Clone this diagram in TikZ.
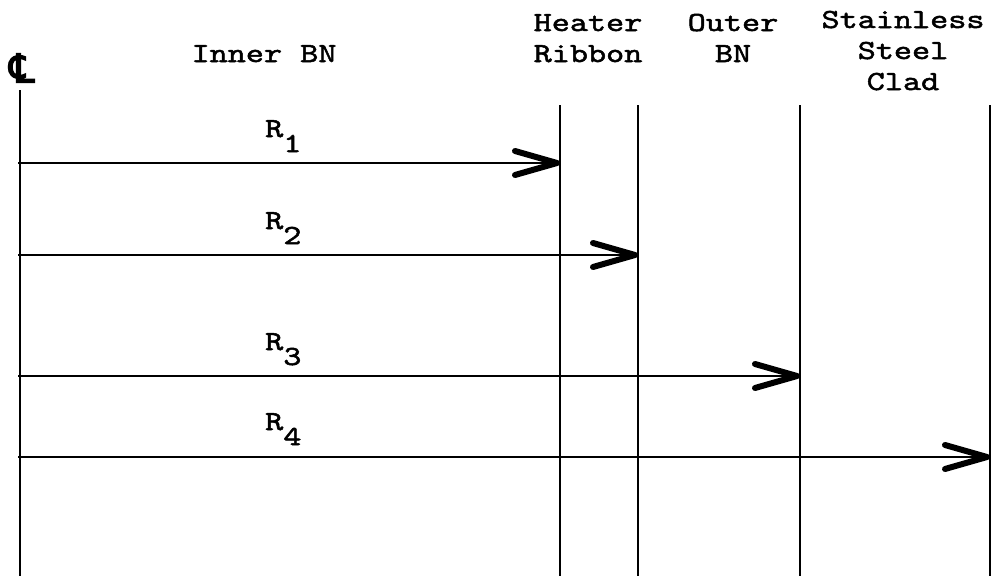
\documentclass[tikz,border=0pt]{standalone}
\usepackage{fontspec}
\setmainfont{lmmono10-regular.otf}[FakeStretch=1.25,FakeBold=1.8]
\newfontfamily\symfont{DejaVu Sans}[FakeBold=3]
\usetikzlibrary{arrows.meta}
\tikzset{
  wall/.style={line width=2pt},
  ray/.style={line width=1.8pt,-{Straight Barb[length=42pt,width=24pt,line width=6pt,round]}},
  hdr/.style={font=\fontsize{27.6}{31}\selectfont,align=center,anchor=base,inner sep=0pt},
  rlab/.style={font=\fontsize{27.6}{31}\selectfont,anchor=base west,inner sep=0pt}
}
\begin{document}
\begin{tikzpicture}[x=1pt,y=-1pt]
\useasboundingbox (0,0) rectangle (996,576);
% headers (base = baseline of the last line)
\node[hdr] (inner) at (264,62) {Inner BN};
\node[hdr] (heater) at (588,62) {Heater\\Ribbon};
\node[hdr] (outer) at (733,62) {Outer\\BN};
\node[hdr] (steel) at (903,90) {Stainless\\Steel\\Clad};
\node[font=\symfont\fontsize{40}{40}\selectfont,inner sep=0pt] (cl) at (22,68) {℄};
% wall lines
\coordinate (c0) at (20,90);   \coordinate (c1) at (20,576);
\coordinate (h0) at (560,105); \coordinate (h1) at (560,576);
\coordinate (r0) at (638,105); \coordinate (r1) at (638,576);
\coordinate (o0) at (800,105); \coordinate (o1) at (800,576);
\coordinate (s0) at (990,105); \coordinate (s1) at (990,576);
\draw[wall] (c0) -- (c1);
\draw[wall] (h0) -- (h1);
\draw[wall] (r0) -- (r1);
\draw[wall] (o0) -- (o1);
\draw[wall] (s0) -- (s1);
% rays
\coordinate (a1) at (18,163); \coordinate (b1) at (560,163);
\coordinate (a2) at (18,255); \coordinate (b2) at (638,255);
\coordinate (a3) at (18,376); \coordinate (b3) at (800,376);
\coordinate (a4) at (18,457); \coordinate (b4) at (990,457);
\draw[ray] (a1) -- (b1);
\draw[ray] (a2) -- (b2);
\draw[ray] (a3) -- (b3);
\draw[ray] (a4) -- (b4);
\node[rlab] (R1) at (265,137) {R\raisebox{-15pt}{1}};
\node[rlab] (R2) at (265,229) {R\raisebox{-15pt}{2}};
\node[rlab] (R3) at (265,350) {R\raisebox{-15pt}{3}};
\node[rlab] (R4) at (265,430) {R\raisebox{-15pt}{4}};
\end{tikzpicture}
\end{document}
